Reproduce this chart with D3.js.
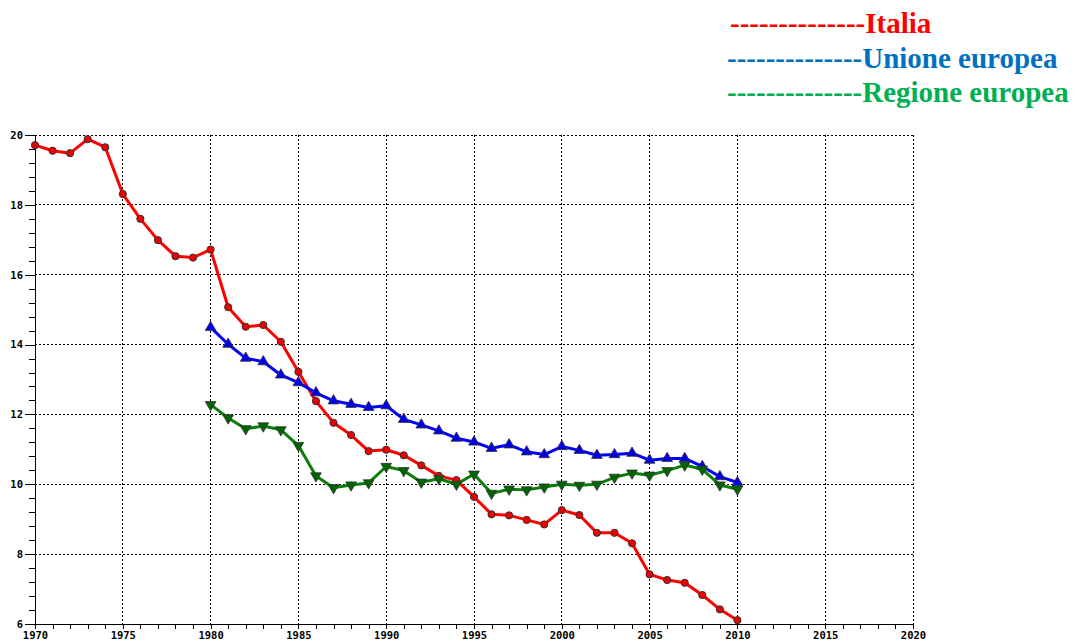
<!DOCTYPE html>
<html>
<head>
<meta charset="utf-8">
<script src="https://cdn.jsdelivr.net/npm/d3@7"></script>
<style>
  body { margin: 0; background: #fff; }
  svg { display: block; }
</style>
</head>
<body>
<div id="chart"></div>
<script>
// data ---------------------------------------------------------
var italiaYears = d3.range(1970, 2011);
var italiaValues = [19.71, 19.55, 19.48, 19.88, 19.65, 18.31, 17.60, 16.99, 16.53, 16.49,
  16.72, 15.07, 14.51, 14.56, 14.08, 13.22, 12.38, 11.76, 11.41, 10.95,
  10.99, 10.83, 10.54, 10.24, 10.12, 9.64, 9.14, 9.11, 8.98, 8.85,
  9.26, 9.12, 8.61, 8.61, 8.31, 7.42, 7.26, 7.18, 6.83, 6.42, 6.11];

var ueYears = d3.range(1980, 2011);
var ueValues = [14.49, 14.01, 13.61, 13.51, 13.13, 12.91, 12.62, 12.39, 12.29, 12.20,
  12.25, 11.86, 11.70, 11.53, 11.32, 11.21, 11.03, 11.13, 10.93, 10.85,
  11.08, 10.97, 10.83, 10.85, 10.89, 10.69, 10.74, 10.74, 10.51, 10.22, 10.05];

var reYears = d3.range(1980, 2011);
var reValues = [12.28, 11.90, 11.59, 11.67, 11.56, 11.11, 10.24, 9.90, 9.98, 10.04,
  10.51, 10.39, 10.06, 10.16, 10.00, 10.29, 9.74, 9.86, 9.84, 9.92,
  10.00, 9.97, 10.00, 10.20, 10.32, 10.26, 10.39, 10.55, 10.43, 9.98, 9.86];

var xMajorTicks = d3.range(1970, 2021, 5);
var xMinorTicks = d3.range(1970, 2021, 1);
var yMajorTicks = [6, 8, 10, 12, 14, 16, 18, 20];
var yMinorTicks = d3.range(6, 20.01, 0.4);

var legendLabels = ["Italia", "Unione europea", "Regione europea"];

// dimensioni ----------------------------------------------------
var W = 1076, H = 641;
var margin = { top: 135, right: 163, bottom: 17, left: 35 };
var width = W - margin.left - margin.right,
  height = H - margin.top - margin.bottom;

var svg = d3.select("#chart").append("svg")
  .attr("width", W)
  .attr("height", H);

var g = svg.append("g")
  .attr("transform", "translate(" + margin.left + "," + margin.top + ")");

var x = d3.scaleLinear().domain([1970, 2020]).range([0, width]);
var y = d3.scaleLinear().domain([6, 20]).range([height, 0]);

var tickFont = "'DejaVu Sans Mono', monospace";

// griglia
g.append("g")
  .selectAll("line")
  .data(xMajorTicks.filter(function (d) { return d > 1970; }))
  .enter().append("line")
  .attr("x1", function (d) { return x(d); })
  .attr("x2", function (d) { return x(d); })
  .attr("y1", 0).attr("y2", height)
  .attr("stroke", "#000")
  .attr("stroke-width", 1)
  .attr("stroke-dasharray", "2,2")
  .attr("shape-rendering", "crispEdges");

g.append("g")
  .selectAll("line")
  .data(yMajorTicks.filter(function (d) { return d > 6; }))
  .enter().append("line")
  .attr("x1", 0).attr("x2", width)
  .attr("y1", function (d) { return y(d); })
  .attr("y2", function (d) { return y(d); })
  .attr("stroke", "#000")
  .attr("stroke-width", 1)
  .attr("stroke-dasharray", "2,2")
  .attr("shape-rendering", "crispEdges");

// asse Y
var yAxisMinor = d3.axisLeft(y).tickValues(yMinorTicks).tickSize(6).tickFormat("");
var yAxis = d3.axisLeft(y).tickValues(yMajorTicks).tickSize(10).tickPadding(2)
  .tickFormat(d3.format("d"));

g.append("g").call(yAxisMinor)
  .call(function (s) { s.select(".domain").remove(); });
var ya = g.append("g").call(yAxis);
ya.selectAll("text")
  .attr("font-family", tickFont)
  .attr("font-weight", "bold")
  .attr("font-size", "10.5px")
  .attr("fill", "#000");

// asse X
var xAxisMinor = d3.axisBottom(x).tickValues(xMinorTicks).tickSize(5).tickFormat("");
var xAxis = d3.axisBottom(x).tickValues(xMajorTicks).tickSize(5).tickPadding(3)
  .tickFormat(d3.format("d"));

g.append("g").attr("transform", "translate(0," + height + ")").call(xAxisMinor);
var xa = g.append("g").attr("transform", "translate(0," + height + ")").call(xAxis);
xa.selectAll("text")
  .attr("font-family", tickFont)
  .attr("font-weight", "bold")
  .attr("font-size", "10.5px")
  .attr("fill", "#000");

svg.selectAll(".domain, .tick line").attr("shape-rendering", "crispEdges");

// serie ----------------------------------------------------------
var series = [
  { years: italiaYears, values: italiaValues, line: "#ff0000", fill: "#ee0000", marker: "circle" },
  { years: ueYears, values: ueValues, line: "#0000ff", fill: "#0000e6", marker: "up" },
  { years: reYears, values: reValues, line: "#0a7d0a", fill: "#006400", marker: "down" }
];

var line = d3.line()
  .x(function (d) { return x(d[0]); })
  .y(function (d) { return y(d[1]); });

var triUp = d3.symbol().type(d3.symbolTriangle).size(50);

series.forEach(function (s) {
  var pts = s.years.map(function (yr, i) { return [yr, s.values[i]]; });

  g.append("path")
    .datum(pts)
    .attr("fill", "none")
    .attr("stroke", s.line)
    .attr("stroke-width", 3)
    .attr("stroke-linejoin", "round")
    .attr("d", line);

  var m = g.append("g").selectAll("path")
    .data(pts)
    .enter();

  if (s.marker === "circle") {
    m.append("circle")
      .attr("cx", function (d) { return x(d[0]); })
      .attr("cy", function (d) { return y(d[1]); })
      .attr("r", 3.6)
      .attr("fill", s.fill)
      .attr("stroke", "#333")
      .attr("stroke-width", 1);
  } else {
    m.append("path")
      .attr("d", triUp)
      .attr("transform", function (d) {
        return "translate(" + x(d[0]) + "," + y(d[1]) + ")" + (s.marker === "down" ? " rotate(180)" : "");
      })
      .attr("fill", s.fill)
      .attr("stroke", "#333")
      .attr("stroke-width", 0.8);
  }
});

// legenda -------------------------------------------------------
var legendColors = ["#ff0000", "#0070c0", "#00b050"];
var legendX = [730, 727, 727];
var legendY = [33, 68, 102];
var dashes = "--------------";

svg.append("g").selectAll("text")
  .data(legendLabels)
  .enter().append("text")
  .attr("x", function (d, i) { return legendX[i]; })
  .attr("y", function (d, i) { return legendY[i]; })
  .attr("font-family", "'Liberation Serif', 'Times New Roman', serif")
  .attr("font-weight", "bold")
  .attr("font-size", "29px")
  .attr("fill", function (d, i) { return legendColors[i]; })
  .text(function (d) { return dashes + d; });
</script>
</body>
</html>
